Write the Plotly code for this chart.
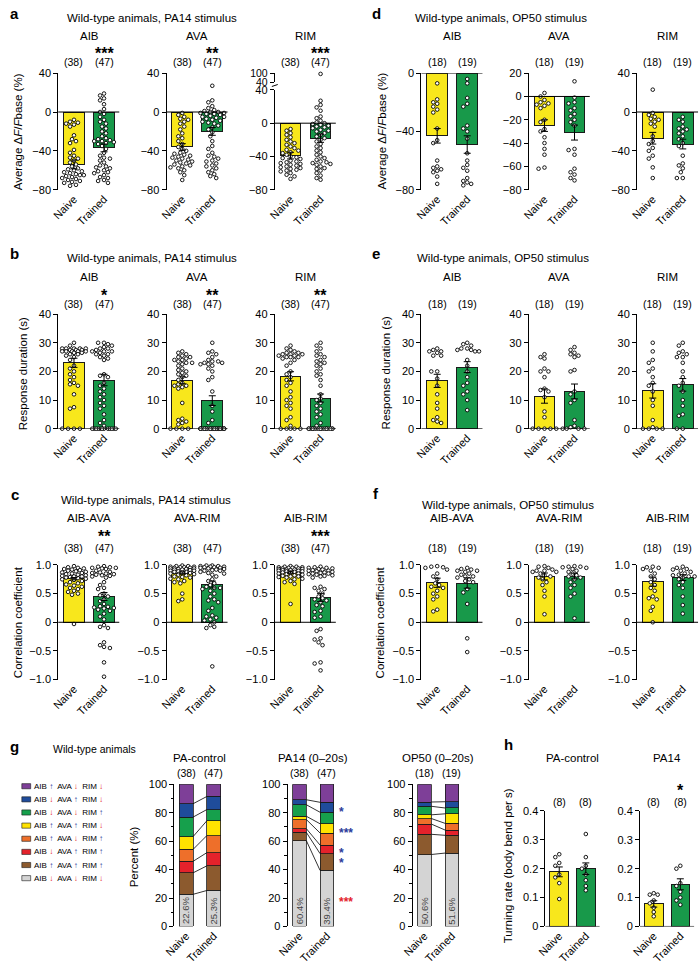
import plotly.graph_objects as go
from itertools import accumulate

W, H = 700, 969
FONT = "Liberation Sans, Arial, Helvetica, sans-serif"
YELLOW = "#F8E71C"
GREEN = "#18994A"

# ======================= DATA =======================
GROUP_LABELS = ["Naive", "Trained"]
NEURONS = ["AIB", "AVA", "RIM"]
PAIRS = ["AIB-AVA", "AVA-RIM", "AIB-RIM"]
N_PA14 = ["(38)", "(47)"]
N_OP50 = ["(18)", "(19)"]

# ---- a: PA14, average dF/Fbase (%) ----
A_MEAN_NAIVE = [-54, -36, -39]
A_MEAN_TRAINED = [-37, -20, -18]
A_SEM_NAIVE = [4.5, 3.4, 4.0]
A_SEM_TRAINED = [4.0, 4.0, 5.0]
A_STARS = ["***", "**", "***"]
A_AIB_NAIVE = [-8, -10, -11, -12, -13, -15, -24, -28, -30, -32, -39, -42, -45, -47, -48, -50, -52, -54, -56, -58,
               -59, -60, -61, -62, -63, -64, -65, -65, -66, -67, -68, -69, -70, -71, -72, -73, -75, -76]
A_AIB_TRAINED = [19, 17, 14, 12, 8, 3, 0, -2, -5, -8, -10, -12, -15, -17, -20, -22, -25, -27, -28, -29, -30, -30,
                 -31, -32, -33, -35, -38, -42, -45, -47, -48, -50, -52, -55, -56, -57, -58, -60, -61, -62, -63,
                 -65, -67, -68, -70, -71, -73]
A_AVA_NAIVE = [-1, -3, -5, -7, -8, -10, -12, -15, -18, -22, -25, -27, -30, -33, -36, -38, -40, -42, -43, -44, -45,
               -46, -47, -48, -49, -50, -51, -52, -53, -54, -55, -56, -57, -58, -60, -62, -65, -70]
A_AVA_TRAINED = [27, 12, 10, 6, 4, 2, 1, 0, 0, -1, -1, -2, -2, -3, -4, -5, -5, -6, -7, -8, -9, -10, -11, -12, -14,
                 -16, -18, -21, -25, -30, -35, -38, -42, -45, -46, -48, -50, -51, -53, -55, -56, -58, -60, -62,
                 -64, -66, -68]
A_RIM_NAIVE = [-7, -9, -12, -14, -17, -20, -22, -24, -26, -28, -30, -32, -33, -35, -36, -38, -40, -41, -42, -43,
               -45, -46, -47, -48, -49, -50, -51, -52, -53, -54, -55, -56, -57, -58, -60, -62, -64, -67]
A_RIM_TRAINED = [95, 27, 22, 19, 15, 8, 6, 3, 1, 0, -1, -2, -3, -4, -5, -6, -8, -9, -10, -12, -14, -16, -18, -20,
                 -22, -25, -28, -30, -33, -35, -38, -40, -42, -44, -46, -47, -48, -49, -50, -52, -54, -55, -57,
                 -60, -63, -66, -68]

# ---- d: OP50, average dF/Fbase (%) ----
D_MEAN_NAIVE = [-43, -25, -27]
D_MEAN_TRAINED = [-49, -31, -33]
D_SEM_NAIVE = [5.0, 5.0, 6.0]
D_SEM_TRAINED = [6.0, 6.4, 5.0]
D_AIB_NAIVE = [-7, -18, -20, -21, -23, -25, -27, -38, -46, -48, -60, -64, -65, -66, -67, -68, -71, -76]
D_AIB_TRAINED = [-4, -7, -17, -21, -23, -36, -38, -40, -45, -55, -60, -63, -65, -67, -72, -74, -75, -76, -77]
D_AVA_NAIVE = [3, 0, -3, -5, -6, -7, -8, -10, -20, -22, -28, -30, -35, -40, -45, -50, -61, -62]
D_AVA_TRAINED = [13, -1, -5, -6, -10, -12, -15, -17, -20, -22, -25, -45, -46, -50, -62, -65, -67, -70, -72]
D_RIM_NAIVE = [23, -1, -3, -5, -7, -8, -10, -12, -15, -25, -30, -33, -37, -40, -45, -48, -57, -68]
D_RIM_TRAINED = [-5, -8, -10, -15, -17, -18, -20, -22, -25, -28, -32, -35, -45, -53, -55, -58, -62, -68, -68]

# ---- b: PA14, response duration (s) ----
B_MEAN_NAIVE = [23.0, 16.9, 18.3]
B_MEAN_TRAINED = [17.0, 9.8, 10.7]
B_SEM_NAIVE = [1.6, 1.2, 1.6]
B_SEM_TRAINED = [2.0, 1.7, 1.4]
B_STARS = ["*", "**", "**"]
B_AIB_NAIVE = [30, 29, 28, 28, 28, 28, 28, 27.5, 27.5, 27.5, 27, 27, 27, 27, 27, 26.5, 26.5, 26, 26, 25.5, 25, 24,
               22, 21, 20, 19, 18, 17, 16, 15.5, 15, 12, 7.5, 7, 0, 0, 0, 0]
B_AIB_TRAINED = [30, 30, 29.5, 29, 28.5, 28, 28, 27.5, 27, 27, 27, 26.5, 26, 26, 25.5, 25, 24.5, 24, 19, 18.5, 18,
                 16, 15, 14, 13, 12, 11, 10, 9, 8, 7, 5, 3, 2, 1, 0, 0, 0, 0, 0, 0, 0, 0, 0, 0, 0, 0]
B_AVA_NAIVE = [27, 26.5, 26, 25.5, 25, 25, 24.5, 24, 24, 23.5, 23, 23, 22.5, 22, 21, 20.5, 20, 19.5, 19, 18.5, 18,
               17, 16, 15.5, 15, 15, 14.5, 14, 9, 3.5, 3, 2.5, 2, 1.5, 0, 0, 0, 0]
B_AVA_TRAINED = [30, 27, 26.5, 26, 25, 24, 23.5, 23.5, 23, 23, 22.5, 22.5, 22, 21, 20, 18, 17, 13, 8, 6, 3, 2,
                 0, 0, 0, 0, 0, 0, 0, 0, 0, 0, 0, 0, 0, 0, 0, 0, 0, 0, 0, 0, 0, 0, 0, 0, 0]
B_RIM_NAIVE = [29, 28, 27.5, 27, 26.5, 26.5, 26, 26, 26, 25.5, 25.5, 25, 25, 25, 24.5, 24, 23, 22, 20, 19, 18, 17,
               16, 15, 13, 11, 10, 9, 8, 7, 4, 3, 1, 0, 0, 0, 0, 0]
B_RIM_TRAINED = [30, 29, 28, 27, 26, 25.5, 25, 24, 23.5, 23, 22.5, 22, 21, 20, 19, 18.5, 17, 15, 12, 10.5, 10, 9,
                 8, 7, 6, 5, 4, 2, 1, 0, 0, 0, 0, 0, 0, 0, 0, 0, 0, 0, 0, 0, 0, 0, 0, 0, 0]

# ---- e: OP50, response duration (s) ----
E_MEAN_NAIVE = [16.7, 11.4, 13.2]
E_MEAN_TRAINED = [21.5, 13.0, 15.3]
E_SEM_NAIVE = [2.3, 2.5, 2.5]
E_SEM_TRAINED = [1.9, 2.6, 2.2]
E_AIB_NAIVE = [28, 27.5, 27, 27, 26.5, 25.5, 25.5, 20, 20, 17.5, 15, 12, 9, 7, 4, 3, 2.5, 2]
E_AIB_TRAINED = [30, 29.5, 29, 28, 28, 27.5, 27.5, 27, 27, 24, 22, 20, 18, 16, 15, 13, 12, 10, 6.5]
E_AVA_NAIVE = [26, 25, 24.5, 21, 20, 20, 18, 14, 13.5, 13, 11, 6, 4, 0, 0, 0, 0, 0]
E_AVA_TRAINED = [28.5, 27.5, 26.5, 26, 25.5, 25, 20.5, 20, 13, 12, 10, 9, 3, 1, 0.5, 0, 0, 0, 0]
E_RIM_NAIVE = [30, 27, 24, 23, 21, 20, 18, 16, 15, 13, 10, 8, 3, 0.5, 0, 0, 0, 0]
E_RIM_TRAINED = [30, 29, 27, 26.5, 26, 25, 25, 23, 20, 18, 16, 15, 13, 10, 8, 5, 4.5, 0, 0]

# ---- c: PA14, correlation coefficient ----
C_MEAN_NAIVE = [0.76, 0.86, 0.875]
C_MEAN_TRAINED = [0.45, 0.66, 0.43]
C_SEM_NAIVE = [0.02, 0.02, 0.02]
C_SEM_TRAINED = [0.07, 0.06, 0.07]
C_STARS = ["**", "", "***"]
C_AIBAVA_NAIVE = [0.98, 0.96, 0.95, 0.94, 0.93, 0.92, 0.91, 0.9, 0.89, 0.88, 0.87, 0.86, 0.85, 0.84, 0.83, 0.82,
                  0.81, 0.8, 0.8, 0.79, 0.78, 0.77, 0.76, 0.75, 0.74, 0.72, 0.7, 0.68, 0.66, 0.64, 0.62, 0.6, 0.58,
                  0.55, 0.53, 0.5, 0.48, -0.03]
C_AIBAVA_TRAINED = [0.98, 0.97, 0.96, 0.95, 0.95, 0.94, 0.93, 0.9, 0.88, 0.87, 0.86, 0.85, 0.84, 0.83, 0.82, 0.81,
                    0.8, 0.78, 0.7, 0.65, 0.6, 0.58, 0.5, 0.47, 0.45, 0.4, 0.37, 0.32, 0.28, 0.26, 0.25, 0.24, 0.22,
                    0.2, 0.15, 0.1, 0.05, -0.05, -0.08, -0.1, -0.35, -0.4, -0.43, -0.45, -0.7, -0.95, 0.27]
C_AVARIM_NAIVE = [0.99, 0.98, 0.98, 0.97, 0.97, 0.96, 0.96, 0.95, 0.95, 0.94, 0.94, 0.93, 0.93, 0.92, 0.92, 0.91,
                  0.9, 0.9, 0.89, 0.88, 0.87, 0.86, 0.85, 0.84, 0.83, 0.82, 0.8, 0.79, 0.78, 0.76, 0.75, 0.72, 0.7,
                  0.68, 0.5, 0.4, 0.37, 0.88]
C_AVARIM_TRAINED = [0.99, 0.99, 0.98, 0.98, 0.97, 0.97, 0.96, 0.96, 0.95, 0.95, 0.94, 0.93, 0.92, 0.91, 0.9, 0.88,
                    0.86, 0.85, 0.83, 0.8, 0.75, 0.72, 0.68, 0.62, 0.6, 0.6, 0.58, 0.5, 0.45, 0.4, 0.38, 0.35, 0.25,
                    0.2, 0.12, 0.1, 0.08, 0.05, 0.03, 0.0, -0.05, -0.08, -0.1, -0.77, 0.65, 0.55, 0.9]
C_AIBRIM_NAIVE = [0.98, 0.97, 0.97, 0.96, 0.96, 0.95, 0.95, 0.94, 0.94, 0.93, 0.93, 0.92, 0.92, 0.91, 0.91, 0.9,
                  0.9, 0.89, 0.89, 0.88, 0.87, 0.86, 0.85, 0.85, 0.84, 0.83, 0.82, 0.81, 0.8, 0.8, 0.79, 0.78, 0.76,
                  0.75, 0.72, 0.7, 0.67, 0.32]
C_AIBRIM_TRAINED = [0.97, 0.96, 0.95, 0.95, 0.94, 0.93, 0.92, 0.91, 0.9, 0.89, 0.88, 0.87, 0.86, 0.85, 0.84, 0.83,
                    0.82, 0.81, 0.8, 0.78, 0.62, 0.6, 0.58, 0.55, 0.5, 0.45, 0.42, 0.4, 0.38, 0.35, 0.3, 0.28, 0.2,
                    0.18, 0.1, 0.08, -0.12, -0.15, -0.28, -0.3, -0.35, -0.4, -0.7, -0.72, -0.84, 0.9, 0.85]

# ---- f: OP50, correlation coefficient ----
F_MEAN_NAIVE = [0.69, 0.80, 0.71]
F_MEAN_TRAINED = [0.685, 0.806, 0.78]
F_SEM_NAIVE = [0.08, 0.06, 0.08]
F_SEM_TRAINED = [0.09, 0.05, 0.05]
F_AIBAVA_NAIVE = [0.98, 0.97, 0.96, 0.95, 0.92, 0.85, 0.8, 0.75, 0.68, 0.65, 0.62, 0.6, 0.55, 0.5, 0.45, 0.4,
                  0.22, 0.19]
F_AIBAVA_TRAINED = [0.95, 0.93, 0.92, 0.9, 0.9, 0.88, 0.85, 0.83, 0.8, 0.8, 0.78, 0.75, 0.72, 0.7, 0.58, 0.52,
                    0.32, -0.28, -0.52]
F_AVARIM_NAIVE = [0.98, 0.97, 0.95, 0.92, 0.9, 0.9, 0.88, 0.85, 0.82, 0.8, 0.78, 0.75, 0.7, 0.65, 0.55, 0.45,
                  0.14, 0.88]
F_AVARIM_TRAINED = [0.98, 0.97, 0.97, 0.96, 0.95, 0.93, 0.9, 0.88, 0.85, 0.82, 0.8, 0.78, 0.75, 0.7, 0.65, 0.6,
                    0.5, 0.45, 0.07]
F_AIBRIM_NAIVE = [0.97, 0.96, 0.95, 0.93, 0.9, 0.85, 0.8, 0.75, 0.7, 0.65, 0.6, 0.55, 0.45, 0.42, 0.4, 0.27,
                  0.2, 0.0]
F_AIBRIM_TRAINED = [0.97, 0.95, 0.93, 0.92, 0.9, 0.88, 0.85, 0.83, 0.82, 0.8, 0.8, 0.78, 0.75, 0.7, 0.65, 0.6,
                    0.45, 0.3, 0.15]

# ---- g: state percentages (stack order bottom -> top) ----
G_STATES = [("↓", "↓", "↓"), ("↑", "↑", "↑"), ("↓", "↑", "↑"), ("↑", "↓", "↑"),
            ("↑", "↑", "↓"), ("↓", "↓", "↑"), ("↓", "↑", "↓"), ("↑", "↓", "↓")]
G_COLORS = ["#D4D4D4", "#8C5A2E", "#E4222B", "#EE6F2A", "#FFE200", "#16A04C", "#1F4C9B", "#7E3F98"]
G_TITLES = ["PA-control", "PA14 (0–20s)", "OP50 (0–20s)"]
G_COUNTS = [N_PA14, N_PA14, N_OP50]
G_PACTRL_NAIVE = [22.6, 15.1, 8.1, 8.4, 9.0, 13.7, 9.4, 13.7]
G_PACTRL_TRAINED = [25.3, 17.3, 9.3, 12.0, 10.4, 7.9, 9.2, 8.6]
G_PA14_NAIVE = [60.4, 5.8, 2.6, 6.4, 2.3, 8.1, 3.5, 10.9]
G_PA14_TRAINED = [39.4, 11.8, 6.0, 8.5, 6.5, 8.1, 7.0, 12.7]
G_OP50_NAIVE = [50.6, 14.2, 7.2, 3.9, 2.6, 6.0, 3.0, 12.5]
G_OP50_TRAINED = [51.6, 12.5, 3.7, 4.7, 6.7, 4.1, 4.4, 12.3]
G_PA14_STARS = [("*", "#2B3A9A", 83), ("***", "#2B3A9A", 68), ("*", "#2B3A9A", 54),
                ("*", "#2B3A9A", 47), ("***", "#E4222B", 20)]

# ---- h: turning rate ----
H_TITLES = ["PA-control", "PA14"]
H_MEAN_NAIVE = [0.189, 0.078]
H_MEAN_TRAINED = [0.200, 0.146]
H_SEM_NAIVE = [0.017, 0.011]
H_SEM_TRAINED = [0.020, 0.019]
H_STARS = ["", "*"]
H_PACTRL_NAIVE = [0.25, 0.24, 0.22, 0.21, 0.18, 0.17, 0.15, 0.095]
H_PACTRL_TRAINED = [0.32, 0.24, 0.21, 0.2, 0.18, 0.16, 0.14, 0.125]
H_PA14_NAIVE = [0.115, 0.11, 0.11, 0.09, 0.08, 0.065, 0.05, 0.035]
H_PA14_TRAINED = [0.21, 0.2, 0.15, 0.14, 0.12, 0.1, 0.09, 0.075]

# ======================= FIGURE =======================
TICK_FS = 11
TITLE_FS = 11.5
COUNT_FS = 10.5
HEAD_FS = 11.5

fig = go.Figure()
axes = {}
annotations = []
shapes = []
counter = [0]


def fx(px):
    return px / W


def fy(py):
    return 1 - py / H


def txt(px, py, text, size=10, color="black", bold=False, angle=0, xanchor="center", yanchor="middle"):
    if bold:
        text = "<b>" + text + "</b>"
    annotations.append(dict(x=fx(px), y=fy(py), xref="paper", yref="paper", text=text, showarrow=False,
                            font=dict(size=size, color=color, family=FONT), textangle=angle,
                            xanchor=xanchor, yanchor=yanchor, borderpad=0))


def star(px, py, text, size=16, color="black", xanchor="center"):
    txt(px, py + 0.3 * size, "<b>" + text + "</b>", size=size, color=color, xanchor=xanchor)


def yaxis_dict(ytop, ybot, yrange, tickvals, ticktext, anchor, minor=None):
    d = dict(domain=[fy(ybot), fy(ytop)], range=yrange, anchor=anchor, showline=True, linecolor="black",
             linewidth=1, ticks="outside", ticklen=4, tickwidth=1, tickcolor="black", tickmode="array",
             tickvals=tickvals, ticktext=ticktext, tickfont=dict(size=TICK_FS, color="black", family=FONT),
             showgrid=False, zeroline=False, fixedrange=True)
    if minor:
        d["minor"] = minor
    return d


def new_axes(xpx0, xpx1, ytop, ybot, xrange, yrange, tickvals, ticktext, minor=None):
    counter[0] += 1
    n = counter[0]
    s = "" if n == 1 else str(n)
    axes["xaxis" + s] = dict(domain=[fx(xpx0), fx(xpx1)], range=xrange, anchor="y" + s, showline=False,
                             showgrid=False, zeroline=False, tickmode="array", tickvals=[0, 1],
                             ticktext=GROUP_LABELS, tickangle=-45, ticks="",
                             tickfont=dict(size=TICK_FS, color="black", family=FONT), fixedrange=True)
    axes["yaxis" + s] = yaxis_dict(ytop, ybot, yrange, tickvals, ticktext, "x" + s, minor)
    return "x" + s, "y" + s


def swarm_offsets(vals, ppu_y, ppu_x, max_px, d=4.2, step=2.0):
    cands = [0.0]
    k = 1
    while k * step <= max_px:
        cands += [-k * step, k * step]
        k += 1
    placed = []
    offs = [0.0] * len(vals)
    for i in sorted(range(len(vals)), key=lambda j: -vals[j]):
        y = vals[i] * ppu_y
        best, best_ov = 0.0, None
        for c in cands:
            ov = 0.0
            for (qx, qy) in placed:
                dist = ((c - qx) ** 2 + (y - qy) ** 2) ** 0.5
                if dist < d:
                    ov += d - dist
            if ov == 0:
                best = c
                break
            if best_ov is None or ov < best_ov:
                best, best_ov = c, ov
        placed.append((best, y))
        offs[i] = best / ppu_x
    return offs


MARK = dict(size=3.6, color="white", line=dict(color="black", width=0.9))


def points(xa, ya, g, vals, ppu_y, ppu_x, max_px):
    if not vals:
        return
    offs = swarm_offsets(vals, ppu_y, ppu_x, max_px)
    fig.add_trace(go.Scatter(x=[g + o for o in offs], y=vals, mode="markers", marker=MARK, cliponaxis=False,
                             xaxis=xa, yaxis=ya, showlegend=False, hoverinfo="skip"))


def bar_panel(ax_px, ytop, ybot, yrange, tickvals, ticktext, means, sems, pts, counts, title, stars,
              unit=30.5, left=16, width_px=62, barw=0.69, title_y=None, count_y=None, star_y=None,
              mini=None, minor=None):
    xr = [-left / unit, (width_px - left) / unit]
    xa, ya = new_axes(ax_px, ax_px + width_px, ytop, ybot, xr, yrange, tickvals, ticktext, minor)
    fig.add_trace(go.Bar(x=[0, 1], y=means, width=barw,
                         marker=dict(color=[YELLOW, GREEN], line=dict(color="#1a1a1a", width=1)),
                         xaxis=xa, yaxis=ya, showlegend=False, hoverinfo="skip"))
    ppu_y = (ybot - ytop) / (yrange[1] - yrange[0])
    for g, vals in enumerate(pts):
        main_vals = [v for v in vals if v <= yrange[1]]
        points(xa, ya, g, main_vals, ppu_y, unit, 12)
        if mini is not None:
            hi = [v for v in vals if v > yrange[1]]
            if hi:
                counter[0] += 1
                my = "yaxis" + str(counter[0])
                axes[my] = yaxis_dict(mini[0], mini[1], [40, 100], [40, 100], ["40", "100"], xa)
                axes[my]["tickfont"] = dict(size=10.5, color="black", family=FONT)
                points(xa, "y" + str(counter[0]), g, hi, 1, unit, 12)
                shapes.append(dict(type="line", xref="paper", yref="paper", x0=fx(ax_px - 3), x1=fx(ax_px + 3),
                                   y0=fy(mini[1] + 4.5), y1=fy(mini[1] + 2.5),
                                   line=dict(color="black", width=1)))
    fig.add_trace(go.Scatter(x=[0, 1], y=means, mode="markers", marker=dict(size=1, opacity=0),
                             error_y=dict(type="data", array=sems, color="black", thickness=1, width=3.5),
                             xaxis=xa, yaxis=ya, showlegend=False, hoverinfo="skip", cliponaxis=False))
    shapes.append(dict(type="line", xref=xa + " domain", x0=0, x1=1, yref=ya, y0=0, y1=0,
                       line=dict(color="black", width=1)))
    c0 = ax_px + left
    c1 = ax_px + left + unit
    if title is not None:
        txt((c0 + c1) / 2, title_y, title, size=TITLE_FS)
    txt(c0, count_y, counts[0], size=COUNT_FS)
    txt(c1, count_y, counts[1], size=COUNT_FS)
    if stars:
        star(c1, star_y, stars)
    return xa, ya


# ---------- rows a-f ----------
LEFT_AX = [48, 158, 268]
RIGHT_AX = [417, 526, 636]
ROWS = [(68, 186), (312, 428), (566, 682)]
ROW_TEXT_Y = [(30, 43, 57), (274, 288, 302), (518, 532, 549)]

DF_TICKS = ([-80, -40, 0, 40], ["−80", "−40", "0", "40"])
DUR_TICKS = ([0, 10, 20, 30, 40], ["0", "10", "20", "30", "40"])
COR_TICKS = ([-1, -0.5, 0, 0.5, 1], ["−1.0", "−0.5", "0", "0.5", "1.0"])

a_pts = [(A_AIB_NAIVE, A_AIB_TRAINED), (A_AVA_NAIVE, A_AVA_TRAINED), (A_RIM_NAIVE, A_RIM_TRAINED)]
d_pts = [(D_AIB_NAIVE, D_AIB_TRAINED), (D_AVA_NAIVE, D_AVA_TRAINED), (D_RIM_NAIVE, D_RIM_TRAINED)]
b_pts = [(B_AIB_NAIVE, B_AIB_TRAINED), (B_AVA_NAIVE, B_AVA_TRAINED), (B_RIM_NAIVE, B_RIM_TRAINED)]
e_pts = [(E_AIB_NAIVE, E_AIB_TRAINED), (E_AVA_NAIVE, E_AVA_TRAINED), (E_RIM_NAIVE, E_RIM_TRAINED)]
c_pts = [(C_AIBAVA_NAIVE, C_AIBAVA_TRAINED), (C_AVARIM_NAIVE, C_AVARIM_TRAINED),
         (C_AIBRIM_NAIVE, C_AIBRIM_TRAINED)]
f_pts = [(F_AIBAVA_NAIVE, F_AIBAVA_TRAINED), (F_AVARIM_NAIVE, F_AVARIM_TRAINED),
         (F_AIBRIM_NAIVE, F_AIBRIM_TRAINED)]

# a
ytop, ybot = ROWS[0]
ty, sy, cy = ROW_TEXT_Y[0]
for j in range(3):
    if j == 2:
        bar_panel(LEFT_AX[j], 85, ybot, [-80, 40], *DF_TICKS, [A_MEAN_NAIVE[j], A_MEAN_TRAINED[j]],
                  [A_SEM_NAIVE[j], A_SEM_TRAINED[j]], a_pts[j], N_PA14, NEURONS[j], A_STARS[j],
                  title_y=ty, count_y=cy, star_y=sy, mini=(68, 77))
    else:
        bar_panel(LEFT_AX[j], ytop, ybot, [-80, 40], *DF_TICKS, [A_MEAN_NAIVE[j], A_MEAN_TRAINED[j]],
                  [A_SEM_NAIVE[j], A_SEM_TRAINED[j]], a_pts[j], N_PA14, NEURONS[j], A_STARS[j],
                  title_y=ty, count_y=cy, star_y=sy)
# d
D_RANGES = [[-80, 0], [-80, 20], [-80, 40]]
D_TICKS = [([-80, -40, 0], ["−80", "−40", "0"]),
           ([-80, -60, -40, -20, 0, 20], ["−80", "−60", "−40", "−20", "0", "20"]),
           ([-80, -40, 0, 40], ["−80", "−40", "0", "40"])]
for j in range(3):
    bar_panel(RIGHT_AX[j], ytop, ybot, D_RANGES[j], *D_TICKS[j], [D_MEAN_NAIVE[j], D_MEAN_TRAINED[j]],
              [D_SEM_NAIVE[j], D_SEM_TRAINED[j]], d_pts[j], N_OP50, NEURONS[j], "",
              title_y=ty, count_y=cy, star_y=sy)
# b, e
ytop, ybot = ROWS[1]
ty, sy, cy = ROW_TEXT_Y[1]
for j in range(3):
    bar_panel(LEFT_AX[j], ytop, ybot, [0, 40], *DUR_TICKS, [B_MEAN_NAIVE[j], B_MEAN_TRAINED[j]],
              [B_SEM_NAIVE[j], B_SEM_TRAINED[j]], b_pts[j], N_PA14, NEURONS[j], B_STARS[j],
              title_y=ty, count_y=cy, star_y=sy)
    bar_panel(RIGHT_AX[j], ytop, ybot, [0, 40], *DUR_TICKS, [E_MEAN_NAIVE[j], E_MEAN_TRAINED[j]],
              [E_SEM_NAIVE[j], E_SEM_TRAINED[j]], e_pts[j], N_OP50, NEURONS[j], "",
              title_y=ty, count_y=cy, star_y=sy)
# c, f
ytop, ybot = ROWS[2]
ty, sy, cy = ROW_TEXT_Y[2]
for j in range(3):
    bar_panel(LEFT_AX[j], ytop, ybot, [-1, 1], *COR_TICKS, [C_MEAN_NAIVE[j], C_MEAN_TRAINED[j]],
              [C_SEM_NAIVE[j], C_SEM_TRAINED[j]], c_pts[j], N_PA14, PAIRS[j], C_STARS[j],
              title_y=ty, count_y=cy, star_y=sy)
    bar_panel(RIGHT_AX[j], ytop, ybot, [-1, 1], *COR_TICKS, [F_MEAN_NAIVE[j], F_MEAN_TRAINED[j]],
              [F_SEM_NAIVE[j], F_SEM_TRAINED[j]], f_pts[j], N_OP50, PAIRS[j], "",
              title_y=ty, count_y=cy, star_y=sy)

# ---------- g ----------
G_AX = [166, 281, 408]
G_DATA = [(G_PACTRL_NAIVE, G_PACTRL_TRAINED), (G_PA14_NAIVE, G_PA14_TRAINED), (G_OP50_NAIVE, G_OP50_TRAINED)]
G_TOP, G_BOT = 788, 932
for j in range(3):
    unit, left, wpx = 28, 12, 50
    xa, ya = new_axes(G_AX[j], G_AX[j] + wpx, G_TOP, G_BOT, [-left / unit, (wpx - left) / unit], [0, 100],
                      [0, 20, 40, 60, 80, 100], ["0", "20", "40", "60", "80", "100"],
                      minor=dict(dtick=10, ticks="outside", ticklen=2.5, tickwidth=1, tickcolor="black",
                                 showgrid=False))
    naive, trained = G_DATA[j]
    for k in range(8):
        fig.add_trace(go.Bar(x=[0, 1], y=[naive[k], trained[k]], width=0.5,
                             marker=dict(color=G_COLORS[k], line=dict(color="#1a1a1a", width=0.8)),
                             xaxis=xa, yaxis=ya, showlegend=False, hoverinfo="skip"))
    cn = list(accumulate(naive))
    ct = list(accumulate(trained))
    for k in range(7):
        fig.add_trace(go.Scatter(x=[0.25, 0.75], y=[cn[k], ct[k]], mode="lines",
                                 line=dict(color="black", width=0.8), xaxis=xa, yaxis=ya,
                                 showlegend=False, hoverinfo="skip"))
    for g, v in enumerate([naive[0], trained[0]]):
        annotations.append(dict(x=g, y=11, xref=xa, yref=ya, text=f"{v:.1f}%", showarrow=False,
                                textangle=-90, font=dict(size=9.5, color="#444", family=FONT)))
    c0 = G_AX[j] + left
    c1 = c0 + unit
    txt((c0 + c1) / 2, 761, G_TITLES[j], size=TITLE_FS)
    txt(c0, 777, G_COUNTS[j][0], size=COUNT_FS)
    txt(c1, 777, G_COUNTS[j][1], size=COUNT_FS)
for s, col, val in G_PA14_STARS:
    py = G_BOT - val * (G_BOT - G_TOP) / 100
    star(G_AX[1] + 50 + 1, py, s, size=12, color=col, xanchor="left")

# legend for g
UP, DOWN = "#2B3A9A", "#E4222B"
for i, k in enumerate(range(7, -1, -1)):
    py = 790 + i * 13.3
    shapes.append(dict(type="rect", xref="paper", yref="paper", x0=fx(11), x1=fx(20), y0=fy(py + 2.6),
                       y1=fy(py - 2.6), fillcolor=G_COLORS[k], line=dict(color="#1a1a1a", width=0.6)))
    parts = []
    for name, arr in zip(NEURONS, G_STATES[k]):
        parts.append(f"{name} <span style='color:{UP if arr == '↑' else DOWN}'><b>{arr}</b></span>")
    txt(22, py, "  ".join(parts), size=8, xanchor="left")

# ---------- h ----------
H_AX = [543, 639]
H_PTS = [(H_PACTRL_NAIVE, H_PACTRL_TRAINED), (H_PA14_NAIVE, H_PA14_TRAINED)]
for j in range(2):
    bar_panel(H_AX[j], 815, 932, [0, 0.4], [0, 0.1, 0.2, 0.3, 0.4], ["0", "0.1", "0.2", "0.3", "0.4"],
              [H_MEAN_NAIVE[j], H_MEAN_TRAINED[j]], [H_SEM_NAIVE[j], H_SEM_TRAINED[j]], H_PTS[j],
              ["(8)", "(8)"], H_TITLES[j], H_STARS[j], unit=27, left=14, width_px=55, barw=0.7,
              title_y=761, count_y=806, star_y=790)

# ---------- headers, letters, axis titles ----------
for letter, px, py in [("a", 4, 8), ("d", 371, 8), ("b", 4, 251), ("e", 371, 251), ("c", 4, 495),
                       ("f", 371, 494), ("g", 4, 750), ("h", 505, 748)]:
    txt(px, py, letter, size=15, bold=True)
txt(143, 12, "Wild-type animals, PA14 stimulus", size=HEAD_FS)
txt(498, 12, "Wild-type animals, OP50 stimulus", size=HEAD_FS)
txt(143, 255, "Wild-type animals, PA14 stimulus", size=HEAD_FS)
txt(500, 255, "Wild-type animals, OP50 stimulus", size=HEAD_FS)
txt(137, 500, "Wild-type animals, PA14 stimulus", size=HEAD_FS)
txt(505, 505, "Wild-type animals, OP50 stimulus", size=HEAD_FS)
txt(85, 752, "Wild-type animals", size=10.5)

AX_FS = 11.5
DF_LABEL = "Average Δ<i>F</i>/<i>F</i>base (%)"
txt(8, 127, DF_LABEL, angle=-90, size=AX_FS)
txt(377, 127, DF_LABEL, angle=-90, size=AX_FS)
txt(13, 372, "Response duration (s)", angle=-90, size=AX_FS)
txt(381, 372, "Response duration (s)", angle=-90, size=AX_FS)
txt(7, 624, "Correlation coefficient", angle=-90, size=AX_FS)
txt(375, 624, "Correlation coefficient", angle=-90, size=AX_FS)
txt(125, 862, "Percent (%)", angle=-90, size=AX_FS)
txt(505, 871, "Turning rate (body bend per s)", angle=-90, size=AX_FS)

fig.update_layout(width=W, height=H, margin=dict(l=0, r=0, t=0, b=0), plot_bgcolor="white",
                  paper_bgcolor="white", barmode="stack", showlegend=False, annotations=annotations,
                  shapes=shapes, font=dict(family=FONT, size=10, color="black"), **axes)
fig.write_html("out.html", config={"displayModeBar": False, "staticPlot": True},
               post_script="document.body.style.margin='0';document.body.style.padding='0';"
                           "document.body.style.overflow='hidden';")
